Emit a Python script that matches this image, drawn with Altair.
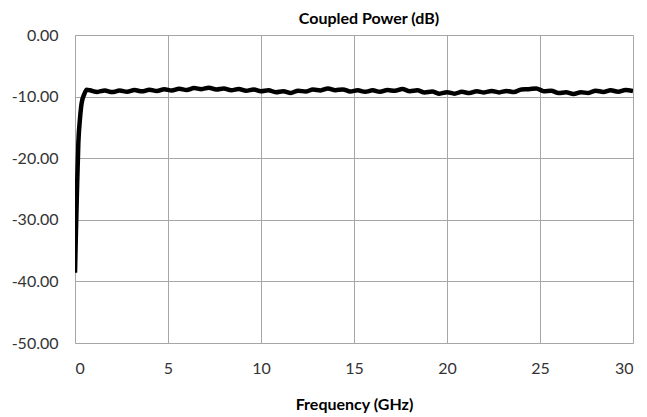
import altair as alt
import pandas as pd

freq_ghz = [0.0, 0.05, 0.1, 0.18, 0.27, 0.36, 0.5, 0.63,
            0.8, 1.2, 1.6, 2.0, 2.4, 2.8, 3.2, 3.6, 4.0, 4.4, 4.8, 5.2, 5.6, 6.0,
            6.4, 6.8, 7.2, 7.6, 8.0, 8.4, 8.8, 9.2, 9.6, 10.0, 10.4, 10.8, 11.2,
            11.6, 12.0, 12.4, 12.8, 13.2, 13.6, 14.0, 14.4, 14.8, 15.2, 15.6,
            16.0, 16.4, 16.8, 17.2, 17.6, 18.0, 18.4, 18.8, 19.2, 19.6, 20.0,
            20.4, 20.8, 21.2, 21.6, 22.0, 22.4, 22.8, 23.2, 23.6, 24.0, 24.4,
            24.8, 25.2, 25.6, 26.0, 26.4, 26.8, 27.2, 27.6, 28.0, 28.4, 28.8,
            29.2, 29.6, 30.0]
power_db = [-38.6, -32.0, -26.0, -17.5, -13.5, -11.0, -9.6, -8.9,
            -8.98, -9.24, -9.01, -9.27, -9.00, -9.21, -8.94, -9.15, -8.88, -9.08,
            -8.80, -9.00, -8.72, -8.92, -8.62, -8.79, -8.55, -8.85, -8.68, -8.96,
            -8.76, -9.04, -8.84, -9.12, -8.97, -9.29, -9.14, -9.40, -9.04, -9.18,
            -8.85, -8.99, -8.68, -8.97, -8.83, -9.17, -8.98, -9.22, -8.98, -9.22,
            -8.93, -9.07, -8.78, -9.12, -8.98, -9.32, -9.18, -9.52, -9.28, -9.52,
            -9.23, -9.42, -9.13, -9.32, -9.08, -9.32, -9.08, -9.27, -8.83, -8.80,
            -8.68, -9.12, -9.05, -9.42, -9.30, -9.57, -9.28, -9.42, -9.03, -9.24,
            -8.98, -9.20, -8.94, -9.12]

x_ticks = [0, 5, 10, 15, 20, 25, 30]
y_ticks = [0, -10, -20, -30, -40, -50]

df = pd.DataFrame({"f": freq_ghz, "p": power_db})

FONT = "Lato"

chart = (
    alt.Chart(df)
    .mark_line(color="black", strokeWidth=4.5, interpolate="monotone", clip=True)
    .encode(
        x=alt.X(
            "f:Q",
            scale=alt.Scale(domain=[0, 30], nice=False, zero=False),
            axis=alt.Axis(
                values=x_ticks,
                title="Frequency (GHz)",
                titleFontSize=16,
                titleFontWeight="bold",
                titleFont=FONT,
                titleColor="#000000",
                titlePadding=20,
                labelFont=FONT,
                labelFontSize=16,
                labelColor="#333333",
                labelPadding=17,
                ticks=False,
                domain=False,
                grid=True,
                gridColor="#a6a6a6",
                gridWidth=1,
            ),
        ),
        y=alt.Y(
            "p:Q",
            scale=alt.Scale(domain=[-50, 0], nice=False, zero=False),
            axis=alt.Axis(
                values=y_ticks,
                labelExpr="(datum.value < 0 ? '-' : '') + format(abs(datum.value), '.2f')",
                title=None,
                labelFont=FONT,
                labelFontSize=16,
                labelColor="#333333",
                labelPadding=17,
                ticks=False,
                domain=False,
                grid=True,
                gridColor="#a6a6a6",
                gridWidth=1,
            ),
        ),
    )
    .properties(
        width=558,
        height=308,
        title=alt.TitleParams(
            "Coupled Power (dB)",
            font=FONT,
            fontSize=16,
            fontWeight="bold",
            color="#000000",
            anchor="middle",
            dx=15,
            offset=0,
        ),
        autosize=alt.AutoSizeParams(type="none"),
        padding={"left": 67, "top": 27, "right": 6, "bottom": 74},
    )
    .configure_view(stroke="black", strokeWidth=2.5)
    .configure(background="white")
)

chart.save("out.html", embed_options={"renderer": "svg", "actions": False})
